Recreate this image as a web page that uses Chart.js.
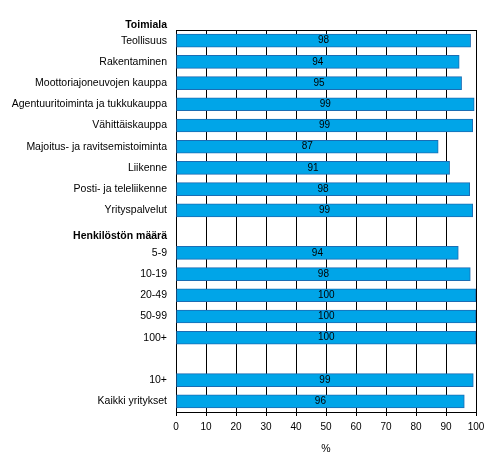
<!DOCTYPE html>
<html>
<head>
<meta charset="utf-8">
<script src="https://cdn.jsdelivr.net/npm/chart.js@4.4.1/dist/chart.umd.min.js"></script>
<style>
  html, body { margin: 0; padding: 0; background: #fff; }
  #wrap { width: 492px; height: 471px; }
</style>
</head>
<body>
<div id="wrap"><canvas id="kaavio"></canvas></div>
<script>
// ryhmien otsikot
const ylaOtsikko = "Toimiala";
const valiOtsikko = "Henkilöstön määrä";

const rivit = [
    "Teollisuus",
    "Rakentaminen",
    "Moottoriajoneuvojen kauppa",
    "Agentuuritoiminta ja tukkukauppa",
    "Vähittäiskauppa",
    "Majoitus- ja ravitsemistoiminta",
    "Liikenne",
    "Posti- ja teleliikenne",
    "Yrityspalvelut",
    valiOtsikko,
    "5-9",
    "10-19",
    "20-49",
    "50-99",
    "100+",
    "",
    "10+",
    "Kaikki yritykset"
];

// % yrityksistä (tyhjät rivit = null)
const osuudet = [98.2, 94.4, 95.2, 99.4, 98.9, 87.4, 91.2, 97.9, 98.9,
                 null, 94.1, 98.1, 100, 100, 100, null, 99.1, 96.1];

const xTicks = [0, 10, 20, 30, 40, 50, 60, 70, 80, 90, 100];

const fontti = "'Liberation Sans', Arial, sans-serif";

const kehys = {
    id: "kehys",
    beforeDatasetsDraw(chart) {
        const a = chart.chartArea;
        const ctx = chart.ctx;
        ctx.save();
        ctx.strokeStyle = "#000";
        ctx.lineWidth = 1;
        ctx.beginPath();
        ctx.moveTo(a.left, a.top + 0.5);
        ctx.lineTo(a.right, a.top + 0.5);
        ctx.stroke();
        ctx.restore();
    },
    afterDatasetsDraw(chart) {
        const ctx = chart.ctx;
        const meta = chart.getDatasetMeta(0);
        ctx.save();
        ctx.font = "10px " + fontti;
        ctx.fillStyle = "#000";
        ctx.textAlign = "center";
        ctx.textBaseline = "middle";
        meta.data.forEach((bar, i) => {
            let v = osuudet[i];
            if (v === null) return;
            ctx.fillText(Math.round(v), (bar.x + bar.base) / 2, bar.y);
        });
        // otsikot hieman rivin keskikohtaa alempana kuten alkuperäisessä
        const y = chart.scales.y;
        ctx.font = "bold 10.5px " + fontti;
        ctx.textAlign = "right";
        ctx.fillText(ylaOtsikko, y.right - 9, chart.chartArea.top - 5);
        const vi = rivit.indexOf(valiOtsikko);
        ctx.fillText(valiOtsikko, y.right - 9, y.getPixelForValue(vi) + 4);
        ctx.restore();
    }
};

new Chart(document.getElementById("kaavio"), {
    type: "bar",
    data: {
        labels: rivit,
        datasets: [{
            data: osuudet,
            backgroundColor: "#00A5E8",
            borderColor: "#1B6DB4",
            borderWidth: 1,
            borderSkipped: false,
            barThickness: 13
        }]
    },
    options: {
        indexAxis: "y",
        responsive: true,
        maintainAspectRatio: false,
        animation: false,
        layout: { padding: { top: 30, right: 16, left: 0, bottom: 0 } },
        plugins: {
            legend: { display: false },
            tooltip: { enabled: false }
        },
        scales: {
            x: {
                min: 0,
                max: 100,
                afterBuildTicks: s => { s.ticks = xTicks.map(v => ({ value: v })); },
                afterFit: s => { s.height = 59; },
                grid: { color: "#000", lineWidth: 1, tickLength: 4, drawTicks: true },
                border: { color: "#000", width: 1 },
                ticks: { color: "#000", font: { family: fontti, size: 10 }, padding: 5, maxRotation: 0 },
                title: { display: true, text: "%", color: "#000", font: { family: fontti, size: 10.5 }, padding: 16 }
            },
            y: {
                afterFit: s => { s.width = 176; },
                grid: { display: false, drawTicks: false },
                border: { display: true, color: "#000", width: 1 },
                ticks: {
                    color: "#000",
                    padding: 9,
                    autoSkip: false,
                    font: { family: fontti, size: 10.5 },
                    callback: function (v, i) {
                        return rivit[i] === valiOtsikko ? "" : rivit[i];
                    }
                }
            }
        }
    },
    plugins: [kehys]
});
</script>
</body>
</html>
